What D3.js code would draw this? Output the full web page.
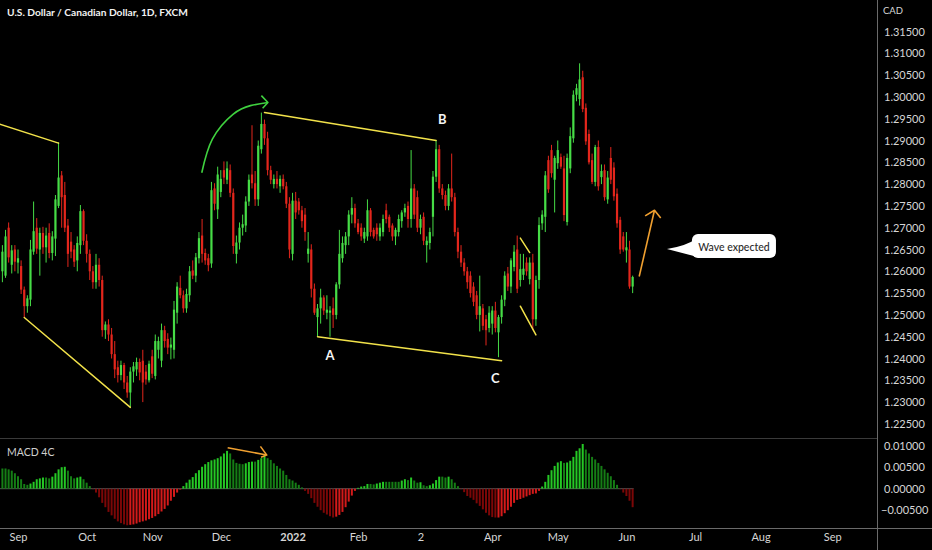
<!DOCTYPE html>
<html><head><meta charset="utf-8">
<script src="https://cdn.jsdelivr.net/npm/d3@7/dist/d3.min.js"></script>
<style>html,body{margin:0;padding:0;background:#000;overflow:hidden}svg{display:block}</style>
</head><body>
<svg id="c" width="932" height="550"></svg>
<script>
// ---------------- DATA ----------------
const title = "U.S. Dollar / Canadian Dollar, 1D, FXCM";
const firstDate = "2021-08-25";           // first daily bar (weekdays only)
const opens = [
1.2600,1.2590,1.2700,1.2615,1.2650,
1.2620,1.2612,1.2558,1.2520,1.2535,1.2645,1.2700,1.2650,1.2688,1.2655,
1.2688,1.2642,1.2675,1.2750,1.2820,1.2775,1.2705,1.2668,1.2650,1.2625,
1.2660,1.2738,1.2670,1.2640,1.2600,1.2575,1.2615,1.2580,1.2465,1.2478,
1.2455,1.2410,1.2380,1.2362,1.2385,1.2345,1.2322,1.2370,1.2375,1.2392,
1.2395,1.2370,1.2350,1.2405,1.2360,1.2420,1.2395,1.2465,1.2445,1.2425,
1.2420,1.2505,1.2562,1.2545,1.2515,1.2545,1.2602,1.2590,1.2630,1.2682,
1.2642,1.2630,1.2618,1.2790,1.2742,1.2782,1.2832,1.2810,1.2832,1.2780,
1.2640,1.2666,1.2700,1.2705,1.2760,1.2822,1.2802,1.2765,1.2880,1.2938,
1.2905,1.2832,1.2800,1.2812,1.2795,1.2812,1.2795,1.2755,1.2640,1.2762,
1.2760,1.2740,1.2730,1.2640,1.2650,1.2560,1.2495,1.2515,1.2540,1.2505,
1.2505,1.2515,1.2500,1.2570,1.2630,1.2660,1.2680,1.2730,1.2745,1.2710,
1.2700,1.2675,1.2680,1.2740,1.2695,1.2700,1.2680,1.2690,1.2740,1.2725,
1.2705,1.2680,1.2690,1.2715,1.2735,1.2750,1.2720,1.2790,1.2770,1.2700,
1.2725,1.2660,1.2665,1.2725,1.2817,1.2880,1.2790,1.2775,1.2750,1.2790,
1.2770,1.2690,1.2645,1.2620,1.2600,1.2590,1.2565,1.2545,1.2500,1.2515,
1.2490,1.2470,1.2480,1.2510,1.2460,1.2495,1.2535,1.2595,1.2565,1.2610,
1.2650,1.2580,1.2592,1.2620,1.2582,1.2620,1.2490,1.2580,1.2710,1.2725,
1.2855,1.2878,1.2810,1.2848,1.2862,1.2836,1.2713,1.2836,1.2905,1.3005,
1.2995,1.3045,1.2975,1.2915,1.2855,1.2805,1.2885,1.2816,1.2832,1.2765,
1.2860,1.2838,1.2778,1.2718,1.2680,1.2648,1.2650,1.2565];
const highs = [
1.2660,1.2695,1.2712,1.2660,1.2660,
1.2650,1.2625,1.2565,1.2545,1.2672,1.2760,1.2722,1.2700,1.2702,1.2700,
1.2710,1.2692,1.2775,1.2896,1.2830,1.2805,1.2720,1.2690,1.2660,1.2680,
1.2752,1.2742,1.2685,1.2650,1.2612,1.2640,1.2630,1.2590,1.2485,1.2490,
1.2470,1.2440,1.2395,1.2395,1.2390,1.2360,1.2380,1.2392,1.2402,1.2400,
1.2420,1.2385,1.2395,1.2420,1.2455,1.2450,1.2480,1.2475,1.2458,1.2448,
1.2532,1.2575,1.2590,1.2556,1.2560,1.2612,1.2625,1.2642,1.2690,1.2720,
1.2652,1.2640,1.2805,1.2802,1.2840,1.2832,1.2852,1.2852,1.2845,1.2790,
1.2682,1.2712,1.2730,1.2772,1.2822,1.2935,1.2830,1.2900,1.2964,1.2948,
1.2920,1.2842,1.2822,1.2830,1.2820,1.2822,1.2805,1.2770,1.2780,1.2782,
1.2768,1.2750,1.2745,1.2690,1.2662,1.2572,1.2525,1.2560,1.2545,1.2545,
1.2520,1.2540,1.2575,1.2695,1.2680,1.2690,1.2740,1.2770,1.2755,1.2720,
1.2710,1.2700,1.2765,1.2745,1.2700,1.2710,1.2710,1.2730,1.2755,1.2730,
1.2710,1.2700,1.2730,1.2740,1.2755,1.2760,1.2878,1.2800,1.2785,1.2730,
1.2735,1.2680,1.2700,1.2830,1.2901,1.2890,1.2800,1.2785,1.2800,1.2870,
1.2780,1.2700,1.2660,1.2630,1.2610,1.2600,1.2575,1.2555,1.2590,1.2525,
1.2500,1.2520,1.2520,1.2530,1.2500,1.2545,1.2600,1.2610,1.2630,1.2660,
1.2682,1.2640,1.2640,1.2632,1.2632,1.2640,1.2590,1.2724,1.2740,1.2830,
1.2865,1.2890,1.2865,1.2900,1.2870,1.2865,1.2870,1.2930,1.3015,1.3030,
1.3077,1.3060,1.2985,1.2925,1.2870,1.2890,1.2900,1.2845,1.2845,1.2830,
1.2885,1.2850,1.2790,1.2725,1.2690,1.2690,1.2670,1.2590];
const lows = [
1.2575,1.2585,1.2620,1.2595,1.2600,
1.2595,1.2548,1.2494,1.2505,1.2520,1.2638,1.2640,1.2590,1.2640,1.2620,
1.2630,1.2625,1.2635,1.2745,1.2700,1.2690,1.2610,1.2630,1.2610,1.2600,
1.2640,1.2660,1.2620,1.2580,1.2560,1.2560,1.2565,1.2450,1.2445,1.2440,
1.2400,1.2355,1.2345,1.2350,1.2330,1.2310,1.2288,1.2345,1.2360,1.2350,
1.2300,1.2340,1.2345,1.2355,1.2352,1.2400,1.2380,1.2425,1.2410,1.2398,
1.2400,1.2480,1.2538,1.2505,1.2505,1.2530,1.2582,1.2575,1.2618,1.2620,
1.2615,1.2600,1.2608,1.2740,1.2720,1.2770,1.2800,1.2800,1.2770,1.2640,
1.2618,1.2650,1.2682,1.2690,1.2750,1.2790,1.2750,1.2750,1.2870,1.2890,
1.2820,1.2800,1.2790,1.2790,1.2780,1.2788,1.2745,1.2630,1.2625,1.2720,
1.2730,1.2700,1.2670,1.2620,1.2540,1.2500,1.2450,1.2480,1.2500,1.2490,
1.2450,1.2470,1.2490,1.2560,1.2620,1.2640,1.2660,1.2710,1.2700,1.2685,
1.2670,1.2665,1.2670,1.2680,1.2675,1.2670,1.2670,1.2680,1.2710,1.2690,
1.2670,1.2660,1.2680,1.2700,1.2725,1.2700,1.2700,1.2720,1.2690,1.2685,
1.2660,1.2620,1.2650,1.2680,1.2805,1.2780,1.2765,1.2740,1.2740,1.2760,
1.2680,1.2630,1.2610,1.2590,1.2560,1.2540,1.2520,1.2490,1.2462,1.2465,
1.2430,1.2460,1.2455,1.2460,1.2403,1.2480,1.2520,1.2555,1.2550,1.2600,
1.2550,1.2565,1.2580,1.2590,1.2570,1.2465,1.2475,1.2560,1.2695,1.2690,
1.2780,1.2815,1.2735,1.2835,1.2835,1.2715,1.2705,1.2825,1.2895,1.2990,
1.2980,1.2965,1.2890,1.2845,1.2800,1.2795,1.2785,1.2800,1.2762,1.2755,
1.2800,1.2762,1.2700,1.2640,1.2645,1.2620,1.2560,1.2550];
const closes = [
1.2645,1.2680,1.2632,1.2648,1.2622,
1.2630,1.2558,1.2520,1.2538,1.2650,1.2692,1.2652,1.2688,1.2655,1.2682,
1.2642,1.2680,1.2765,1.2815,1.2770,1.2700,1.2640,1.2645,1.2622,1.2665,
1.2738,1.2670,1.2640,1.2600,1.2575,1.2615,1.2580,1.2465,1.2478,1.2455,
1.2410,1.2375,1.2362,1.2385,1.2345,1.2322,1.2370,1.2382,1.2392,1.2368,
1.2345,1.2352,1.2388,1.2365,1.2440,1.2440,1.2465,1.2440,1.2425,1.2432,
1.2512,1.2565,1.2545,1.2515,1.2548,1.2600,1.2590,1.2632,1.2676,1.2640,
1.2625,1.2614,1.2786,1.2755,1.2822,1.2812,1.2815,1.2836,1.2780,1.2658,
1.2666,1.2700,1.2708,1.2760,1.2810,1.2802,1.2765,1.2888,1.2938,1.2905,
1.2832,1.2810,1.2812,1.2800,1.2812,1.2795,1.2755,1.2650,1.2762,1.2735,
1.2740,1.2715,1.2690,1.2652,1.2560,1.2505,1.2515,1.2540,1.2510,1.2512,
1.2510,1.2500,1.2570,1.2640,1.2665,1.2680,1.2730,1.2745,1.2710,1.2690,
1.2680,1.2690,1.2740,1.2690,1.2680,1.2685,1.2700,1.2720,1.2720,1.2700,
1.2680,1.2695,1.2720,1.2735,1.2745,1.2720,1.2790,1.2730,1.2700,1.2720,
1.2670,1.2670,1.2690,1.2817,1.2880,1.2790,1.2775,1.2750,1.2790,1.2770,
1.2690,1.2645,1.2620,1.2600,1.2575,1.2550,1.2530,1.2500,1.2520,1.2475,
1.2465,1.2505,1.2510,1.2470,1.2495,1.2535,1.2590,1.2565,1.2625,1.2645,
1.2560,1.2605,1.2606,1.2600,1.2620,1.2490,1.2580,1.2706,1.2730,1.2820,
1.2788,1.2825,1.2860,1.2878,1.2840,1.2729,1.2860,1.2910,1.3005,1.3020,
1.3040,1.2972,1.2898,1.2850,1.2805,1.2885,1.2795,1.2830,1.2770,1.2815,
1.2810,1.2772,1.2710,1.2650,1.2650,1.2655,1.2565,1.2587];
const macdHist = [
0.0047,0.0047,0.0045,0.0042,0.0036,
0.0029,0.0022,0.0011,0.0009,0.0012,0.0016,0.0022,0.0024,0.0026,0.0026,
0.0024,0.0028,0.0036,0.0045,0.0050,0.0051,0.0042,0.0029,0.0024,0.0026,
0.0028,0.0022,0.0014,0.0006,-0.0001,-0.0009,-0.0020,-0.0033,-0.0043,-0.0054,
-0.0062,-0.0070,-0.0076,-0.0080,-0.0083,-0.0085,-0.0084,-0.0083,-0.0081,-0.0078,
-0.0076,-0.0074,-0.0071,-0.0068,-0.0064,-0.0059,-0.0053,-0.0047,-0.0039,-0.0028,
-0.0019,-0.0009,-0.0002,0.0006,0.0014,0.0021,0.0027,0.0036,0.0043,0.0051,
0.0057,0.0062,0.0066,0.0068,0.0071,0.0075,0.0082,0.0088,0.0082,0.0068,
0.0060,0.0058,0.0057,0.0059,0.0062,0.0063,0.0063,0.0067,0.0071,0.0077,
0.0071,0.0067,0.0059,0.0053,0.0047,0.0042,0.0032,0.0022,0.0019,0.0014,
0.0009,0.0003,-0.0005,-0.0012,-0.0022,-0.0033,-0.0042,-0.0050,-0.0056,-0.0060,
-0.0064,-0.0067,-0.0065,-0.0061,-0.0054,-0.0043,-0.0030,-0.0016,-0.0005,0.0002,
0.0005,0.0006,0.0011,0.0011,0.0010,0.0012,0.0014,0.0016,0.0016,0.0016,
0.0016,0.0016,0.0016,0.0019,0.0022,0.0020,0.0026,0.0019,0.0014,0.0015,
0.0008,0.0006,0.0008,0.0012,0.0020,0.0028,0.0028,0.0026,0.0028,0.0022,
0.0014,0.0006,-0.0001,-0.0008,-0.0017,-0.0021,-0.0026,-0.0034,-0.0040,-0.0048,
-0.0056,-0.0062,-0.0066,-0.0067,-0.0067,-0.0064,-0.0057,-0.0050,-0.0042,-0.0033,
-0.0026,-0.0024,-0.0021,-0.0018,-0.0015,-0.0012,-0.0011,-0.0005,0.0005,0.0016,
0.0032,0.0043,0.0053,0.0061,0.0064,0.0060,0.0061,0.0065,0.0074,0.0088,
0.0094,0.0104,0.0091,0.0082,0.0074,0.0068,0.0060,0.0053,0.0045,0.0037,
0.0029,0.0020,0.0009,-0.0001,-0.0009,-0.0017,-0.0028,-0.0043];
const priceTicks = [1.315,1.31,1.305,1.30,1.295,1.29,1.285,1.28,1.275,1.27,1.265,1.26,1.255,1.25,1.245,1.24,1.235,1.23,1.225];
const macdTicks = [0.01,0.005,0,-0.005];
const timeLabels = ["Sep","Oct","Nov","Dec","2022","Feb","2","Apr","May","Jun","Jul","Aug","Sep"];
const timeDates  = ["2021-09-01","2021-10-01","2021-11-01","2021-12-01","2022-01-03","2022-02-01","2022-03-01","2022-04-01","2022-05-02","2022-06-01","2022-07-01","2022-08-01","2022-09-01"];
// annotations in (date, price) space
const trendLines = [
  [["2021-08-24",1.2938],["2021-09-20",1.2894]],
  [["2021-09-03",1.2494],["2021-10-21",1.2288]],
  [["2021-12-21",1.2964],["2022-03-08",1.2900]],
  [["2022-01-13",1.2450],["2022-04-06",1.2395]],
  [["2022-04-14",1.2676],["2022-04-19",1.2643]],
  [["2022-04-14",1.2520],["2022-04-21",1.2454]]
];
const waveLabels = [{t:"A",d:"2022-01-19",p:1.2407},{t:"B",d:"2022-03-10",p:1.2950},{t:"C",d:"2022-04-04",p:1.2355}];
const calloutText = "Wave expected";

// ---------------- HELPERS ----------------
function wIndex(ds){ // weekday index relative to 2021-09-01
  const base = Date.UTC(2021,8,1);
  const [Y,M,D] = ds.split("-").map(Number);
  const t = Date.UTC(Y,M-1,D);
  let n=0, step = t>=base?1:-1, cur=base;
  while(cur!==t){
    if(step>0){ const wd=new Date(cur).getUTCDay(); if(wd!==0&&wd!==6) n++; cur+=86400000; }
    else { cur-=86400000; const wd=new Date(cur).getUTCDay(); if(wd!==0&&wd!==6) n--; }
  }
  return n;
}
const start = wIndex(firstDate);
const N = closes.length;

const svg = d3.select("#c");
const W=932, H=550, PR=877;
const x = d3.scaleLinear().domain([-5.77, 275.32]).range([0, PR]);
const y = d3.scaleLinear().domain([1.315, 1.225]).range([31.5, 423.9]);
const ym = d3.scaleLinear().domain([0.01, -0.005]).range([445.7, 510.2]);
const FONT = "Lato, 'Open Sans', sans-serif";
const TXT = "#d6d6d6";

svg.append("rect").attr("width",W).attr("height",H).attr("fill","#000");
const defs = svg.append("defs");
defs.append("clipPath").attr("id","cp").append("rect").attr("x",0).attr("y",0).attr("width",PR).attr("height",438);
defs.append("clipPath").attr("id","cm").append("rect").attr("x",0).attr("y",439).attr("width",PR).attr("height",89);

// pane borders
svg.append("line").attr("x1",0).attr("x2",PR).attr("y1",438.5).attr("y2",438.5).attr("stroke","#3a3a3a");
svg.append("line").attr("x1",0).attr("x2",W).attr("y1",528.5).attr("y2",528.5).attr("stroke","#6a6a6a");
svg.append("line").attr("x1",PR+0.5).attr("x2",PR+0.5).attr("y1",0).attr("y2",H).attr("stroke","#6a6a6a");

// ---------------- CANDLES ----------------
const UP="#46dc46", DN="#e3261c";
const gp = svg.append("g").attr("clip-path","url(#cp)");
const idx = d3.range(N);
gp.selectAll("line.w").data(idx).join("line")
  .attr("x1",k=>x(k+start)).attr("x2",k=>x(k+start))
  .attr("y1",k=>y(highs[k])).attr("y2",k=>y(lows[k]))
  .attr("stroke",k=>closes[k]>=opens[k]?UP:DN).attr("stroke-width",1);
gp.selectAll("rect.b").data(idx).join("rect")
  .attr("x",k=>x(k+start)-1.1).attr("width",2.2)
  .attr("y",k=>y(Math.max(opens[k],closes[k])))
  .attr("height",k=>Math.max(1,Math.abs(y(opens[k])-y(closes[k]))))
  .attr("fill",k=>closes[k]>=opens[k]?UP:DN);

// ---------------- MACD ----------------
const gm = svg.append("g").attr("clip-path","url(#cm)");
gm.append("line").attr("x1",0).attr("x2",x(start+N-1)+1).attr("y1",ym(0)).attr("y2",ym(0)).attr("stroke","#555").attr("stroke-width",1);
function mcol(k){
  const v=macdHist[k], p = k>0?macdHist[k-1]:v+1;
  if(v>=0) return v>p ? "#25c825" : "#157d15";
  return v<p ? "#7c0707" : "#d41a1a";
}
gm.selectAll("rect.h").data(idx).join("rect")
  .attr("x",k=>x(k+start)-1).attr("width",2)
  .attr("y",k=>Math.min(ym(0),ym(macdHist[k])))
  .attr("height",k=>Math.max(0.5,Math.abs(ym(macdHist[k])-ym(0))))
  .attr("fill",mcol);

// ---------------- AXES ----------------
const ay = svg.append("g").attr("transform",`translate(${PR},0)`)
  .call(d3.axisRight(y).tickValues(priceTicks).tickFormat(d3.format(".5f")).tickSize(0).tickPadding(7));
const am = svg.append("g").attr("transform",`translate(${PR},0)`)
  .call(d3.axisRight(ym).tickValues(macdTicks).tickFormat(d3.format(".5f")).tickSize(0).tickPadding(7));
am.selectAll("text").attr("dx",v=>v<0?-3:0);
const ax = svg.append("g").attr("transform","translate(0,529)")
  .call(d3.axisBottom(x).tickValues(timeDates.map(wIndex)).tickFormat((d,i)=>timeLabels[i]).tickSize(0).tickPadding(4.5));
[ay,am,ax].forEach(a=>{
  a.select(".domain").remove();
  a.selectAll("text").attr("fill",TXT).style("font-family",FONT).style("font-size","11px");
});
ax.selectAll("text").style("font-weight",(d,i)=>timeLabels[i]==="2022"?"700":"400");
svg.append("text").attr("x",883).attr("y",14).text("CAD").attr("fill",TXT).style("font-family",FONT).style("font-size","9.5px");

// ---------------- TEXTS ----------------
svg.append("text").attr("x",7).attr("y",16).text(title).attr("fill","#f2f2f2")
  .style("font-family",FONT).style("font-size","10.2px").style("font-weight","700");
svg.append("text").attr("x",7).attr("y",455.5).text("MACD 4C").attr("fill","#cfcfcf")
  .style("font-family",FONT).style("font-size","10.5px");

// ---------------- ANNOTATIONS ----------------
const ga = svg.append("g");
const pt = (d,p)=>[x(typeof d==="string"?wIndex(d):d), y(p)];
trendLines.forEach(l=>{
  const a=pt(l[0][0],l[0][1]), b=pt(l[1][0],l[1][1]);
  ga.append("line").attr("x1",a[0]).attr("y1",a[1]).attr("x2",b[0]).attr("y2",b[1])
    .attr("stroke","#f2e24a").attr("stroke-width",1.5).attr("stroke-linecap","round");
});
waveLabels.forEach(w=>{
  const p=pt(w.d,w.p);
  ga.append("text").attr("x",p[0]).attr("y",p[1]).attr("text-anchor","middle").attr("dominant-baseline","central")
    .text(w.t).attr("fill","#f4f4f4").style("font-family",FONT).style("font-size","13px").style("font-weight","700");
});
// green curved arrow (index, price)
const arc = [[58.9,1.2826],[62.3,1.2903],[68.9,1.2960],[74.5,1.2980],[80.1,1.2987]];
const lineP = d3.line().x(d=>x(d[0])).y(d=>y(d[1])).curve(d3.curveNatural);
ga.append("path").attr("d",lineP(arc)).attr("fill","none").attr("stroke","#3fd13f").attr("stroke-width",1.6);
ga.append("path").attr("d",d3.line().x(d=>x(d[0])).y(d=>y(d[1]))([[78.0,1.3003],[80.1,1.2987],[78.4,1.2974]]))
  .attr("fill","none").attr("stroke","#3fd13f").attr("stroke-width",1.6).attr("stroke-linejoin","round");
// orange arrow on price pane
const oc="#f0a030";
ga.append("path").attr("d",lineP.curve(d3.curveLinear)([[199.1,1.2588],[204.0,1.2740]])).attr("stroke",oc).attr("stroke-width",1.6).attr("fill","none");
ga.append("path").attr("d",d3.line().x(d=>x(d[0])).y(d=>y(d[1]))([[201.0,1.2727],[204.0,1.2740],[206.0,1.2722]]))
  .attr("fill","none").attr("stroke",oc).attr("stroke-width",1.6).attr("stroke-linejoin","round");
// orange arrow on MACD pane
const lineM = d3.line().x(d=>x(d[0])).y(d=>ym(d[1]));
ga.append("path").attr("d",lineM([[67.2,0.00953],[79.7,0.00784]])).attr("stroke",oc).attr("stroke-width",1.5).attr("fill","none");
ga.append("path").attr("d",lineM([[77.7,0.00985],[79.7,0.00784],[77.9,0.0073]])).attr("stroke",oc).attr("stroke-width",1.5).attr("fill","none");

// callout
const tip = pt(208.0,1.2651);
const L=tip[0]+25, R=tip[0]+109, T=tip[1]-15, B=tip[1]+9;
const gc = svg.append("g");
gc.append("path").attr("d",`M${L+4},${T+5} Q${L-6},${tip[1]-3} ${tip[0]},${tip[1]} L${L+6},${B-1} Z`).attr("fill","#fff");
gc.append("rect").attr("x",L).attr("y",T).attr("width",R-L).attr("height",B-T).attr("rx",6).attr("fill","#fff");
gc.append("text").attr("x",(L+R)/2).attr("y",(T+B)/2+0.5).attr("text-anchor","middle").attr("dominant-baseline","central")
  .text(calloutText).attr("fill","#2a2a2a").style("font-family",FONT).style("font-size","10.5px").style("font-weight","500");
</script>
</body></html>
